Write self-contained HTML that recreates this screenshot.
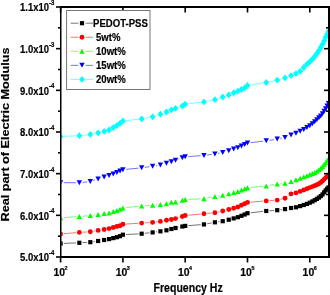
<!DOCTYPE html>
<html><head><meta charset="utf-8"><style>
html,body{margin:0;padding:0;background:#fff;}
svg{display:block;will-change:transform;}
text{font-family:"Liberation Sans",sans-serif;font-weight:bold;fill:#000;stroke:#000;stroke-width:0.2px;}
</style></head><body>
<svg width="330" height="295" viewBox="0 0 330 295">
<defs><clipPath id="cp"><rect x="61.3" y="7" width="268" height="250"/></clipPath></defs><g clip-path="url(#cp)"><path d="M63.80 243.38L76.16 242.92M82.55 242.63L87.13 242.37M93.49 241.71L94.95 241.49M126.10 234.53L138.46 233.87M144.83 233.32L149.45 232.78M155.79 231.95L157.24 231.75M178.67 227.31L179.22 227.19M188.39 225.64L200.76 224.66M207.10 223.80L211.78 222.90M218.09 221.85L219.54 221.65M250.68 212.83L263.08 211.37M269.45 210.77L274.03 210.43M280.39 209.75L281.84 209.55" stroke="#000" stroke-opacity="0.55" stroke-width="1" fill="none"/>
<g><rect x="58.50" y="241.40" width="4.20" height="4.20" fill="#000"/><rect x="77.25" y="240.70" width="4.20" height="4.20" fill="#000"/><rect x="88.22" y="240.10" width="4.20" height="4.20" fill="#000"/><rect x="96.01" y="238.90" width="4.20" height="4.20" fill="#000"/><rect x="102.05" y="237.90" width="4.20" height="4.20" fill="#000"/><rect x="106.98" y="237.00" width="4.20" height="4.20" fill="#000"/><rect x="111.15" y="236.00" width="4.20" height="4.20" fill="#000"/><rect x="114.76" y="235.10" width="4.20" height="4.20" fill="#000"/><rect x="117.95" y="234.10" width="4.20" height="4.20" fill="#000"/><rect x="120.80" y="232.60" width="4.20" height="4.20" fill="#000"/><rect x="139.55" y="231.60" width="4.20" height="4.20" fill="#000"/><rect x="150.52" y="230.30" width="4.20" height="4.20" fill="#000"/><rect x="158.31" y="229.20" width="4.20" height="4.20" fill="#000"/><rect x="164.35" y="228.20" width="4.20" height="4.20" fill="#000"/><rect x="169.28" y="226.90" width="4.20" height="4.20" fill="#000"/><rect x="173.45" y="225.90" width="4.20" height="4.20" fill="#000"/><rect x="180.25" y="224.40" width="4.20" height="4.20" fill="#000"/><rect x="183.10" y="223.80" width="4.20" height="4.20" fill="#000"/><rect x="201.85" y="222.30" width="4.20" height="4.20" fill="#000"/><rect x="212.82" y="220.20" width="4.20" height="4.20" fill="#000"/><rect x="220.61" y="219.10" width="4.20" height="4.20" fill="#000"/><rect x="226.65" y="217.60" width="4.20" height="4.20" fill="#000"/><rect x="231.58" y="216.30" width="4.20" height="4.20" fill="#000"/><rect x="235.75" y="215.10" width="4.20" height="4.20" fill="#000"/><rect x="239.36" y="213.70" width="4.20" height="4.20" fill="#000"/><rect x="242.55" y="212.40" width="4.20" height="4.20" fill="#000"/><rect x="245.40" y="211.10" width="4.20" height="4.20" fill="#000"/><rect x="264.15" y="208.90" width="4.20" height="4.20" fill="#000"/><rect x="275.12" y="208.10" width="4.20" height="4.20" fill="#000"/><rect x="282.91" y="207.00" width="4.20" height="4.20" fill="#000"/><rect x="288.95" y="205.90" width="4.20" height="4.20" fill="#000"/><rect x="293.88" y="205.20" width="4.20" height="4.20" fill="#000"/><rect x="298.05" y="204.00" width="4.20" height="4.20" fill="#000"/><rect x="301.66" y="202.90" width="4.20" height="4.20" fill="#000"/><rect x="304.85" y="201.80" width="4.20" height="4.20" fill="#000"/><rect x="307.70" y="200.60" width="4.20" height="4.20" fill="#000"/><rect x="310.28" y="199.35" width="4.20" height="4.20" fill="#000"/><rect x="312.63" y="198.09" width="4.20" height="4.20" fill="#000"/><rect x="314.80" y="196.81" width="4.20" height="4.20" fill="#000"/><rect x="316.80" y="195.48" width="4.20" height="4.20" fill="#000"/><rect x="318.67" y="194.03" width="4.20" height="4.20" fill="#000"/><rect x="320.42" y="192.35" width="4.20" height="4.20" fill="#000"/><rect x="322.06" y="190.21" width="4.20" height="4.20" fill="#000"/><rect x="323.60" y="188.27" width="4.20" height="4.20" fill="#000"/><rect x="325.07" y="186.70" width="4.20" height="4.20" fill="#000"/><rect x="326.45" y="185.35" width="4.20" height="4.20" fill="#000"/></g>
<path d="M63.79 233.73L76.17 232.67M82.55 232.23L87.13 231.97M93.47 231.23L94.96 230.97M126.09 224.01L138.46 223.29M144.85 222.90L149.43 222.60M155.80 221.99L157.23 221.81M178.61 217.66L179.29 217.44M188.39 215.21L200.77 214.09M207.14 213.48L211.74 213.02M218.05 212.02L219.58 211.68M250.69 202.14L263.06 201.16M269.45 200.67L274.03 200.33M280.33 199.34L281.90 198.96M287.61 196.34L288.44 195.76" stroke="#f00" stroke-opacity="0.55" stroke-width="1" fill="none"/>
<g><circle cx="60.60" cy="234.00" r="2.45" fill="#f00"/><circle cx="79.35" cy="232.40" r="2.45" fill="#f00"/><circle cx="90.32" cy="231.80" r="2.45" fill="#f00"/><circle cx="98.11" cy="230.40" r="2.45" fill="#f00"/><circle cx="104.15" cy="229.50" r="2.45" fill="#f00"/><circle cx="109.08" cy="228.60" r="2.45" fill="#f00"/><circle cx="113.25" cy="227.50" r="2.45" fill="#f00"/><circle cx="116.86" cy="226.50" r="2.45" fill="#f00"/><circle cx="120.05" cy="225.80" r="2.45" fill="#f00"/><circle cx="122.90" cy="224.20" r="2.45" fill="#f00"/><circle cx="141.65" cy="223.10" r="2.45" fill="#f00"/><circle cx="152.62" cy="222.40" r="2.45" fill="#f00"/><circle cx="160.41" cy="221.40" r="2.45" fill="#f00"/><circle cx="166.45" cy="220.30" r="2.45" fill="#f00"/><circle cx="171.38" cy="219.50" r="2.45" fill="#f00"/><circle cx="175.55" cy="218.60" r="2.45" fill="#f00"/><circle cx="182.35" cy="216.50" r="2.45" fill="#f00"/><circle cx="185.20" cy="215.50" r="2.45" fill="#f00"/><circle cx="203.95" cy="213.80" r="2.45" fill="#f00"/><circle cx="214.92" cy="212.70" r="2.45" fill="#f00"/><circle cx="222.71" cy="211.00" r="2.45" fill="#f00"/><circle cx="228.75" cy="209.50" r="2.45" fill="#f00"/><circle cx="233.68" cy="208.30" r="2.45" fill="#f00"/><circle cx="237.85" cy="207.00" r="2.45" fill="#f00"/><circle cx="241.46" cy="205.30" r="2.45" fill="#f00"/><circle cx="244.65" cy="203.80" r="2.45" fill="#f00"/><circle cx="247.50" cy="202.40" r="2.45" fill="#f00"/><circle cx="266.25" cy="200.90" r="2.45" fill="#f00"/><circle cx="277.22" cy="200.10" r="2.45" fill="#f00"/><circle cx="285.01" cy="198.20" r="2.45" fill="#f00"/><circle cx="291.05" cy="193.90" r="2.45" fill="#f00"/><circle cx="295.98" cy="192.90" r="2.45" fill="#f00"/><circle cx="300.15" cy="191.40" r="2.45" fill="#f00"/><circle cx="303.76" cy="190.00" r="2.45" fill="#f00"/><circle cx="306.95" cy="188.80" r="2.45" fill="#f00"/><circle cx="309.80" cy="187.60" r="2.45" fill="#f00"/><circle cx="312.38" cy="186.59" r="2.45" fill="#f00"/><circle cx="314.73" cy="185.69" r="2.45" fill="#f00"/><circle cx="316.90" cy="184.75" r="2.45" fill="#f00"/><circle cx="318.90" cy="183.69" r="2.45" fill="#f00"/><circle cx="320.77" cy="182.45" r="2.45" fill="#f00"/><circle cx="322.52" cy="181.05" r="2.45" fill="#f00"/><circle cx="324.16" cy="179.36" r="2.45" fill="#f00"/><circle cx="325.70" cy="177.82" r="2.45" fill="#f00"/><circle cx="327.17" cy="176.56" r="2.45" fill="#f00"/><circle cx="328.55" cy="175.46" r="2.45" fill="#f00"/></g>
<path d="M63.79 217.51L76.16 216.79M82.54 216.25L87.14 215.75M93.50 215.03L94.93 214.87M126.08 207.64L138.47 206.26M144.85 205.73L149.43 205.47M155.80 204.93L157.23 204.77M178.64 201.18L179.26 201.02M188.40 199.36L200.76 198.84M207.09 198.07L211.79 197.13M218.09 196.01L219.55 195.79M250.68 187.48L263.07 186.22M269.41 185.35L274.07 184.55M280.41 183.67L281.83 183.53" stroke="#0f0" stroke-opacity="0.55" stroke-width="1" fill="none"/>
<g><path d="M60.60 215.20L63.30 220.20L57.90 220.20Z" fill="#0f0"/><path d="M79.35 214.10L82.05 219.10L76.65 219.10Z" fill="#0f0"/><path d="M90.32 212.90L93.02 217.90L87.62 217.90Z" fill="#0f0"/><path d="M98.11 212.00L100.81 217.00L95.41 217.00Z" fill="#0f0"/><path d="M104.15 211.10L106.85 216.10L101.45 216.10Z" fill="#0f0"/><path d="M109.08 210.40L111.78 215.40L106.38 215.40Z" fill="#0f0"/><path d="M113.25 209.10L115.95 214.10L110.55 214.10Z" fill="#0f0"/><path d="M116.86 207.90L119.56 212.90L114.16 212.90Z" fill="#0f0"/><path d="M120.05 206.80L122.75 211.80L117.35 211.80Z" fill="#0f0"/><path d="M122.90 205.50L125.60 210.50L120.20 210.50Z" fill="#0f0"/><path d="M141.65 203.40L144.35 208.40L138.95 208.40Z" fill="#0f0"/><path d="M152.62 202.80L155.32 207.80L149.92 207.80Z" fill="#0f0"/><path d="M160.41 201.90L163.11 206.90L157.71 206.90Z" fill="#0f0"/><path d="M166.45 201.30L169.15 206.30L163.75 206.30Z" fill="#0f0"/><path d="M171.38 199.80L174.08 204.80L168.68 204.80Z" fill="#0f0"/><path d="M175.55 199.50L178.25 204.50L172.85 204.50Z" fill="#0f0"/><path d="M182.35 197.70L185.05 202.70L179.65 202.70Z" fill="#0f0"/><path d="M185.20 197.00L187.90 202.00L182.50 202.00Z" fill="#0f0"/><path d="M203.95 196.20L206.65 201.20L201.25 201.20Z" fill="#0f0"/><path d="M214.92 194.00L217.62 199.00L212.22 199.00Z" fill="#0f0"/><path d="M222.71 192.80L225.41 197.80L220.01 197.80Z" fill="#0f0"/><path d="M228.75 191.30L231.45 196.30L226.05 196.30Z" fill="#0f0"/><path d="M233.68 190.00L236.38 195.00L230.98 195.00Z" fill="#0f0"/><path d="M237.85 189.00L240.55 194.00L235.15 194.00Z" fill="#0f0"/><path d="M241.46 187.50L244.16 192.50L238.76 192.50Z" fill="#0f0"/><path d="M244.65 186.30L247.35 191.30L241.95 191.30Z" fill="#0f0"/><path d="M247.50 185.30L250.20 190.30L244.80 190.30Z" fill="#0f0"/><path d="M266.25 183.40L268.95 188.40L263.55 188.40Z" fill="#0f0"/><path d="M277.22 181.50L279.92 186.50L274.52 186.50Z" fill="#0f0"/><path d="M285.01 180.70L287.71 185.70L282.31 185.70Z" fill="#0f0"/><path d="M291.05 178.90L293.75 183.90L288.35 183.90Z" fill="#0f0"/><path d="M295.98 177.30L298.68 182.30L293.28 182.30Z" fill="#0f0"/><path d="M300.15 175.80L302.85 180.80L297.45 180.80Z" fill="#0f0"/><path d="M303.76 174.30L306.46 179.30L301.06 179.30Z" fill="#0f0"/><path d="M306.95 173.18L309.65 178.18L304.25 178.18Z" fill="#0f0"/><path d="M309.80 172.12L312.50 177.12L307.10 177.12Z" fill="#0f0"/><path d="M312.38 171.04L315.08 176.04L309.68 176.04Z" fill="#0f0"/><path d="M314.73 169.93L317.43 174.93L312.03 174.93Z" fill="#0f0"/><path d="M316.90 168.68L319.60 173.68L314.20 173.68Z" fill="#0f0"/><path d="M318.90 167.20L321.60 172.20L316.20 172.20Z" fill="#0f0"/><path d="M320.77 165.64L323.47 170.64L318.07 170.64Z" fill="#0f0"/><path d="M322.52 163.98L325.22 168.98L319.82 168.98Z" fill="#0f0"/><path d="M324.16 162.07L326.86 167.07L321.46 167.07Z" fill="#0f0"/><path d="M325.70 160.07L328.40 165.07L323.00 165.07Z" fill="#0f0"/><path d="M327.17 158.02L329.87 163.02L324.47 163.02Z" fill="#0f0"/><path d="M328.55 155.92L331.25 160.92L325.85 160.92Z" fill="#0f0"/></g>
<path d="M63.80 182.70L76.15 182.70M82.54 182.35L87.14 181.85M93.36 180.49L95.07 179.91M126.08 169.38L138.47 168.12M144.82 167.37L149.45 166.73M155.78 165.77L157.25 165.53M178.55 159.10L179.35 158.80M188.39 156.56L200.76 155.64M207.13 154.99L211.75 154.41M218.07 153.39L219.57 153.11M250.68 142.71L263.08 141.19M269.42 140.31L274.06 139.59M280.35 138.42L281.88 138.08" stroke="#00f" stroke-opacity="0.55" stroke-width="1" fill="none"/>
<g><path d="M60.60 185.20L63.30 180.20L57.90 180.20Z" fill="#00f"/><path d="M79.35 185.20L82.05 180.20L76.65 180.20Z" fill="#00f"/><path d="M90.32 184.00L93.02 179.00L87.62 179.00Z" fill="#00f"/><path d="M98.11 181.40L100.81 176.40L95.41 176.40Z" fill="#00f"/><path d="M104.15 179.50L106.85 174.50L101.45 174.50Z" fill="#00f"/><path d="M109.08 178.00L111.78 173.00L106.38 173.00Z" fill="#00f"/><path d="M113.25 176.50L115.95 171.50L110.55 171.50Z" fill="#00f"/><path d="M116.86 175.00L119.56 170.00L114.16 170.00Z" fill="#00f"/><path d="M120.05 173.60L122.75 168.60L117.35 168.60Z" fill="#00f"/><path d="M122.90 172.20L125.60 167.20L120.20 167.20Z" fill="#00f"/><path d="M141.65 170.30L144.35 165.30L138.95 165.30Z" fill="#00f"/><path d="M152.62 168.80L155.32 163.80L149.92 163.80Z" fill="#00f"/><path d="M160.41 167.50L163.11 162.50L157.71 162.50Z" fill="#00f"/><path d="M166.45 165.80L169.15 160.80L163.75 160.80Z" fill="#00f"/><path d="M171.38 164.20L174.08 159.20L168.68 159.20Z" fill="#00f"/><path d="M175.55 162.70L178.25 157.70L172.85 157.70Z" fill="#00f"/><path d="M182.35 160.20L185.05 155.20L179.65 155.20Z" fill="#00f"/><path d="M185.20 159.30L187.90 154.30L182.50 154.30Z" fill="#00f"/><path d="M203.95 157.90L206.65 152.90L201.25 152.90Z" fill="#00f"/><path d="M214.92 156.50L217.62 151.50L212.22 151.50Z" fill="#00f"/><path d="M222.71 155.00L225.41 150.00L220.01 150.00Z" fill="#00f"/><path d="M228.75 153.20L231.45 148.20L226.05 148.20Z" fill="#00f"/><path d="M233.68 151.60L236.38 146.60L230.98 146.60Z" fill="#00f"/><path d="M237.85 150.30L240.55 145.30L235.15 145.30Z" fill="#00f"/><path d="M241.46 148.60L244.16 143.60L238.76 143.60Z" fill="#00f"/><path d="M244.65 147.10L247.35 142.10L241.95 142.10Z" fill="#00f"/><path d="M247.50 145.60L250.20 140.60L244.80 140.60Z" fill="#00f"/><path d="M266.25 143.30L268.95 138.30L263.55 138.30Z" fill="#00f"/><path d="M277.22 141.60L279.92 136.60L274.52 136.60Z" fill="#00f"/><path d="M285.01 139.90L287.71 134.90L282.31 134.90Z" fill="#00f"/><path d="M291.05 137.60L293.75 132.60L288.35 132.60Z" fill="#00f"/><path d="M295.98 135.70L298.68 130.70L293.28 130.70Z" fill="#00f"/><path d="M300.15 133.80L302.85 128.80L297.45 128.80Z" fill="#00f"/><path d="M303.76 132.00L306.46 127.00L301.06 127.00Z" fill="#00f"/><path d="M306.95 130.00L309.65 125.00L304.25 125.00Z" fill="#00f"/><path d="M309.80 128.30L312.50 123.30L307.10 123.30Z" fill="#00f"/><path d="M312.38 126.23L315.08 121.23L309.68 121.23Z" fill="#00f"/><path d="M314.73 124.16L317.43 119.16L312.03 119.16Z" fill="#00f"/><path d="M316.90 122.24L319.60 117.24L314.20 117.24Z" fill="#00f"/><path d="M318.90 120.33L321.60 115.33L316.20 115.33Z" fill="#00f"/><path d="M320.77 118.44L323.47 113.44L318.07 113.44Z" fill="#00f"/><path d="M322.52 116.32L325.22 111.32L319.82 111.32Z" fill="#00f"/><path d="M324.16 113.81L326.86 108.81L321.46 108.81Z" fill="#00f"/><path d="M325.70 111.19L328.40 106.19L323.00 106.19Z" fill="#00f"/><path d="M327.17 108.57L329.87 103.57L324.47 103.57Z" fill="#00f"/><path d="M328.55 105.89L331.25 100.89L325.85 100.89Z" fill="#00f"/></g>
<path d="M63.80 136.28L76.16 135.82M82.53 135.32L87.15 134.78M93.46 133.76L94.97 133.44M126.08 120.64L138.47 119.26M144.80 118.30L149.48 117.40M155.66 115.79L157.37 115.21M178.59 107.31L179.30 107.09M188.38 103.73L200.78 102.27M207.09 101.27L211.79 100.33M217.95 98.65L219.69 98.05M250.66 84.99L263.09 83.01M269.38 81.82L274.10 80.78M280.30 79.23L281.93 78.77" stroke="#0ff" stroke-opacity="0.55" stroke-width="1" fill="none"/>
<g><path d="M60.60 133.00L63.60 136.40L60.60 139.80L57.60 136.40Z" fill="#0ff"/><path d="M79.35 132.30L82.35 135.70L79.35 139.10L76.35 135.70Z" fill="#0ff"/><path d="M90.32 131.00L93.32 134.40L90.32 137.80L87.32 134.40Z" fill="#0ff"/><path d="M98.11 129.40L101.11 132.80L98.11 136.20L95.11 132.80Z" fill="#0ff"/><path d="M104.15 128.00L107.15 131.40L104.15 134.80L101.15 131.40Z" fill="#0ff"/><path d="M109.08 126.60L112.08 130.00L109.08 133.40L106.08 130.00Z" fill="#0ff"/><path d="M113.25 124.20L116.25 127.60L113.25 131.00L110.25 127.60Z" fill="#0ff"/><path d="M116.86 122.20L119.86 125.60L116.86 129.00L113.86 125.60Z" fill="#0ff"/><path d="M120.05 119.90L123.05 123.30L120.05 126.70L117.05 123.30Z" fill="#0ff"/><path d="M122.90 117.60L125.90 121.00L122.90 124.40L119.90 121.00Z" fill="#0ff"/><path d="M141.65 115.50L144.65 118.90L141.65 122.30L138.65 118.90Z" fill="#0ff"/><path d="M152.62 113.40L155.62 116.80L152.62 120.20L149.62 116.80Z" fill="#0ff"/><path d="M160.41 110.80L163.41 114.20L160.41 117.60L157.41 114.20Z" fill="#0ff"/><path d="M166.45 108.60L169.45 112.00L166.45 115.40L163.45 112.00Z" fill="#0ff"/><path d="M171.38 106.50L174.38 109.90L171.38 113.30L168.38 109.90Z" fill="#0ff"/><path d="M175.55 104.90L178.55 108.30L175.55 111.70L172.55 108.30Z" fill="#0ff"/><path d="M182.35 102.70L185.35 106.10L182.35 109.50L179.35 106.10Z" fill="#0ff"/><path d="M185.20 100.70L188.20 104.10L185.20 107.50L182.20 104.10Z" fill="#0ff"/><path d="M203.95 98.50L206.95 101.90L203.95 105.30L200.95 101.90Z" fill="#0ff"/><path d="M214.92 96.30L217.92 99.70L214.92 103.10L211.92 99.70Z" fill="#0ff"/><path d="M222.71 93.60L225.71 97.00L222.71 100.40L219.71 97.00Z" fill="#0ff"/><path d="M228.75 91.50L231.75 94.90L228.75 98.30L225.75 94.90Z" fill="#0ff"/><path d="M233.68 89.30L236.68 92.70L233.68 96.10L230.68 92.70Z" fill="#0ff"/><path d="M237.85 87.80L240.85 91.20L237.85 94.60L234.85 91.20Z" fill="#0ff"/><path d="M241.46 86.10L244.46 89.50L241.46 92.90L238.46 89.50Z" fill="#0ff"/><path d="M244.65 84.50L247.65 87.90L244.65 91.30L241.65 87.90Z" fill="#0ff"/><path d="M247.50 82.10L250.50 85.50L247.50 88.90L244.50 85.50Z" fill="#0ff"/><path d="M266.25 79.10L269.25 82.50L266.25 85.90L263.25 82.50Z" fill="#0ff"/><path d="M277.22 76.70L280.22 80.10L277.22 83.50L274.22 80.10Z" fill="#0ff"/><path d="M285.01 74.50L288.01 77.90L285.01 81.30L282.01 77.90Z" fill="#0ff"/><path d="M291.05 72.20L294.05 75.60L291.05 79.00L288.05 75.60Z" fill="#0ff"/><path d="M295.98 70.20L298.98 73.60L295.98 77.00L292.98 73.60Z" fill="#0ff"/><path d="M300.15 67.90L303.15 71.30L300.15 74.70L297.15 71.30Z" fill="#0ff"/><path d="M303.76 64.09L306.76 67.49L303.76 70.89L300.76 67.49Z" fill="#0ff"/><path d="M306.95 60.76L309.95 64.16L306.95 67.56L303.95 64.16Z" fill="#0ff"/><path d="M309.80 58.39L312.80 61.79L309.80 65.19L306.80 61.79Z" fill="#0ff"/><path d="M312.38 55.77L315.38 59.17L312.38 62.57L309.38 59.17Z" fill="#0ff"/><path d="M314.73 52.99L317.73 56.39L314.73 59.79L311.73 56.39Z" fill="#0ff"/><path d="M316.90 50.11L319.90 53.51L316.90 56.91L313.90 53.51Z" fill="#0ff"/><path d="M318.90 47.14L321.90 50.54L318.90 53.94L315.90 50.54Z" fill="#0ff"/><path d="M320.77 44.11L323.77 47.51L320.77 50.91L317.77 47.51Z" fill="#0ff"/><path d="M322.52 40.91L325.52 44.31L322.52 47.71L319.52 44.31Z" fill="#0ff"/><path d="M324.16 37.56L327.16 40.96L324.16 44.36L321.16 40.96Z" fill="#0ff"/><path d="M325.70 33.87L328.70 37.27L325.70 40.67L322.70 37.27Z" fill="#0ff"/><path d="M327.17 30.76L330.17 34.16L327.17 37.56L324.17 34.16Z" fill="#0ff"/><path d="M328.55 28.10L331.55 31.50L328.55 34.90L325.55 31.50Z" fill="#0ff"/></g></g>
<g stroke="#000" fill="none">
<path d="M60.75 6V258" stroke-width="1.5"/>
<path d="M60 257H330" stroke-width="2"/>
<path d="M60 7H330" stroke-width="2"/>
<path d="M329 6V258" stroke-width="2"/>
<path d="M56 257.00H61" stroke-width="1.6"/>
<path d="M324 257.00H329" stroke-width="1.6"/>
<path d="M56 215.33H61" stroke-width="1.6"/>
<path d="M324 215.33H329" stroke-width="1.6"/>
<path d="M56 173.67H61" stroke-width="1.6"/>
<path d="M324 173.67H329" stroke-width="1.6"/>
<path d="M56 132.00H61" stroke-width="1.6"/>
<path d="M324 132.00H329" stroke-width="1.6"/>
<path d="M56 90.33H61" stroke-width="1.6"/>
<path d="M324 90.33H329" stroke-width="1.6"/>
<path d="M56 48.67H61" stroke-width="1.6"/>
<path d="M324 48.67H329" stroke-width="1.6"/>
<path d="M56 7.00H61" stroke-width="1.6"/>
<path d="M324 7.00H329" stroke-width="1.6"/>
<path d="M58 236.17H61" stroke-width="1.6"/>
<path d="M326 236.17H329" stroke-width="1.6"/>
<path d="M58 194.50H61" stroke-width="1.6"/>
<path d="M326 194.50H329" stroke-width="1.6"/>
<path d="M58 152.83H61" stroke-width="1.6"/>
<path d="M326 152.83H329" stroke-width="1.6"/>
<path d="M58 111.17H61" stroke-width="1.6"/>
<path d="M326 111.17H329" stroke-width="1.6"/>
<path d="M58 69.50H61" stroke-width="1.6"/>
<path d="M326 69.50H329" stroke-width="1.6"/>
<path d="M58 27.83H61" stroke-width="1.6"/>
<path d="M326 27.83H329" stroke-width="1.6"/>
<path d="M60.60 257V262.5" stroke-width="1.6"/>
<path d="M60.60 7V12.5" stroke-width="1.6"/>
<path d="M122.90 257V262.5" stroke-width="1.6"/>
<path d="M122.90 7V12.5" stroke-width="1.6"/>
<path d="M185.20 257V262.5" stroke-width="1.6"/>
<path d="M185.20 7V12.5" stroke-width="1.6"/>
<path d="M247.50 257V262.5" stroke-width="1.6"/>
<path d="M247.50 7V12.5" stroke-width="1.6"/>
<path d="M309.80 257V262.5" stroke-width="1.6"/>
<path d="M309.80 7V12.5" stroke-width="1.6"/>
</g>
<rect x="66.6" y="10.5" width="83.4" height="79" fill="#fff" stroke="#777" stroke-width="1"/>
<path d="M70.7 23.20H78.3M85.6 23.20H93" stroke="#000" stroke-opacity="0.55" stroke-width="1"/>
<rect x="79.90" y="21.10" width="4.20" height="4.20" fill="#000"/>
<text transform="translate(93.1 27.20) scale(0.92 1)" font-size="10.4">PEDOT-PSS</text>
<path d="M70.7 37.25H78.3M85.6 37.25H93" stroke="#f00" stroke-opacity="0.55" stroke-width="1"/>
<circle cx="82.00" cy="37.25" r="2.45" fill="#f00"/>
<text transform="translate(96.0 41.25) scale(0.92 1)" font-size="10.4">5wt%</text>
<path d="M70.7 51.30H78.3M85.6 51.30H93" stroke="#0f0" stroke-opacity="0.55" stroke-width="1"/>
<path d="M82.00 48.80L84.70 53.80L79.30 53.80Z" fill="#0f0"/>
<text transform="translate(96.0 55.30) scale(0.92 1)" font-size="10.4">10wt%</text>
<path d="M70.7 65.35H78.3M85.6 65.35H93" stroke="#00f" stroke-opacity="0.55" stroke-width="1"/>
<path d="M82.00 67.85L84.70 62.85L79.30 62.85Z" fill="#00f"/>
<text transform="translate(96.0 69.35) scale(0.92 1)" font-size="10.4">15wt%</text>
<path d="M70.7 79.40H78.3M85.6 79.40H93" stroke="#0ff" stroke-opacity="0.55" stroke-width="1"/>
<path d="M82.00 76.00L85.00 79.40L82.00 82.80L79.00 79.40Z" fill="#0ff"/>
<text transform="translate(96.0 83.40) scale(0.92 1)" font-size="10.4">20wt%</text>
<text transform="translate(49.0 261.30) scale(0.83 1)" text-anchor="end" font-size="11.4">5.0x10</text>
<text transform="translate(48.9 254.90) scale(0.95 1)" font-size="6.3">-4</text>
<text transform="translate(49.0 219.63) scale(0.83 1)" text-anchor="end" font-size="11.4">6.0x10</text>
<text transform="translate(48.9 213.23) scale(0.95 1)" font-size="6.3">-4</text>
<text transform="translate(49.0 177.97) scale(0.83 1)" text-anchor="end" font-size="11.4">7.0x10</text>
<text transform="translate(48.9 171.57) scale(0.95 1)" font-size="6.3">-4</text>
<text transform="translate(49.0 136.30) scale(0.83 1)" text-anchor="end" font-size="11.4">8.0x10</text>
<text transform="translate(48.9 129.90) scale(0.95 1)" font-size="6.3">-4</text>
<text transform="translate(49.0 94.63) scale(0.83 1)" text-anchor="end" font-size="11.4">9.0x10</text>
<text transform="translate(48.9 88.23) scale(0.95 1)" font-size="6.3">-4</text>
<text transform="translate(49.0 52.97) scale(0.83 1)" text-anchor="end" font-size="11.4">1.0x10</text>
<text transform="translate(48.9 46.57) scale(0.95 1)" font-size="6.3">-3</text>
<text transform="translate(49.0 11.30) scale(0.83 1)" text-anchor="end" font-size="11.4">1.1x10</text>
<text transform="translate(48.9 4.90) scale(0.95 1)" font-size="6.3">-3</text>
<text transform="translate(59.20 276) scale(0.9 1)" text-anchor="middle" font-size="11.6">10</text>
<text transform="translate(64.50 269.6) scale(0.9 1)" font-size="6">2</text>
<text transform="translate(121.50 276) scale(0.9 1)" text-anchor="middle" font-size="11.6">10</text>
<text transform="translate(126.80 269.6) scale(0.9 1)" font-size="6">3</text>
<text transform="translate(183.80 276) scale(0.9 1)" text-anchor="middle" font-size="11.6">10</text>
<text transform="translate(189.10 269.6) scale(0.9 1)" font-size="6">4</text>
<text transform="translate(246.10 276) scale(0.9 1)" text-anchor="middle" font-size="11.6">10</text>
<text transform="translate(251.40 269.6) scale(0.9 1)" font-size="6">5</text>
<text transform="translate(308.40 276) scale(0.9 1)" text-anchor="middle" font-size="11.6">10</text>
<text transform="translate(313.70 269.6) scale(0.9 1)" font-size="6">6</text>
<text transform="translate(153.5 291.6) scale(0.846 1)" font-size="12.5">Frequency Hz</text>
<text transform="translate(8.7 221.4) rotate(-90) scale(1 0.822)" font-size="12.62">Real part of Electric Modulus</text>
</svg>
</body></html>
